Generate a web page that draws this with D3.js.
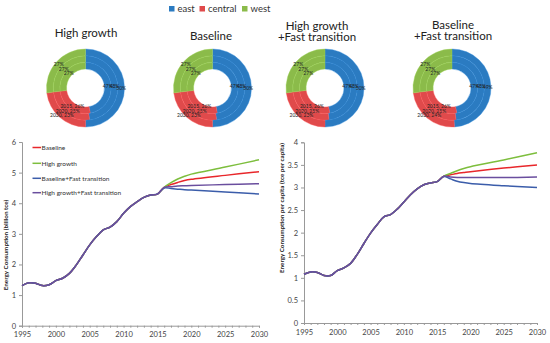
<!DOCTYPE html>
<html><head><meta charset="utf-8">
<script src="https://cdn.jsdelivr.net/npm/d3@7"></script>
<style>body{margin:0;background:#fff}svg{display:block;font-family:Lato,"Open Sans",sans-serif}</style>
</head><body><svg id="c" width="550" height="343"></svg>
<script>
// ---------- data ----------
const regions = ["east", "central", "west"];
const regionColors = ["#2B7BC1", "#E04A4B", "#8BBB4A"];
const ringYears = [2015, 2020, 2030];
const donutTitles = [["High growth"], ["Baseline"], ["High growth", "+Fast transition"], ["Baseline", "+Fast transition"]];
const eastShare = [[47, 48, 50], [47, 48, 50], [47, 48, 50], [47, 48, 49]];
const centralShare = [[26, 25, 23], [26, 25, 23], [26, 25, 23], [26, 25, 24]];
const westShare = [[27, 27, 27], [27, 27, 27], [27, 27, 27], [27, 27, 27]];

const scenarios = ["Baseline", "High growth", "Baseline+Fast transition", "High growth+Fast transition"];
const scenarioColors = ["#E8272B", "#7DBE3D", "#3B5DAA", "#6A4E9E"];

const histYears = [1995,1996,1997,1998,1999,2000,2001,2002,2003,2004,2005,2006,2007,2008,2009,2010,2011,2012,2013,2014,2015];
const projYears = [2016,2017,2018,2019,2020,2025,2030];

const histTotal = [1.31,1.40,1.39,1.31,1.34,1.47,1.55,1.71,1.98,2.31,2.64,2.91,3.13,3.22,3.40,3.67,3.89,4.05,4.19,4.27,4.30];
const totalBaseline   = [4.52,4.61,4.68,4.74,4.78,4.91,5.03];
const totalHigh       = [4.52,4.67,4.79,4.88,4.95,5.18,5.42];
const totalBaseFast   = [4.50,4.48,4.46,4.44,4.43,4.37,4.30];
const totalHighFast   = [4.52,4.54,4.56,4.57,4.58,4.61,4.64];

const histPerCap = [1.08,1.13,1.12,1.05,1.05,1.16,1.22,1.32,1.52,1.76,1.99,2.18,2.35,2.40,2.52,2.68,2.84,2.97,3.06,3.10,3.13];
const capBaseline = [3.25,3.28,3.31,3.33,3.35,3.43,3.50];
const capHigh     = [3.25,3.31,3.37,3.42,3.46,3.61,3.77];
const capBaseFast = [3.24,3.19,3.14,3.11,3.09,3.04,3.00];
const capHighFast = [3.25,3.23,3.22,3.22,3.22,3.22,3.23];

const leftTicks = [0,1,2,3,4,5,6];
const rightTicks = [0,0.5,1,1.5,2,2.5,3,3.5,4];
const xTickYears = [1995,2000,2005,2010,2015,2020,2025,2030];

// ---------- drawing ----------
const svg = d3.select("#c");

// top legend
const legPos = [169, 199.5, 242];
regions.forEach((r, i) => {
  const g = svg.append("g").attr("transform", `translate(${legPos[i]},0)`);
  g.append("rect").attr("x", 0).attr("y", 6).attr("width", 5.5).attr("height", 5.5).attr("fill", regionColors[i]);
  g.append("text").attr("x", 8.5).attr("y", 12.2).attr("font-size", 9.5).attr("fill", "#333").text(r);
});

// donuts
const donutCx = [85.5, 212.5, 325, 452];
const donutCy = 88;
const rIn = 19, rOut = 39;
const ringW = (rOut - rIn) / ringYears.length;
const titleX = [86, 211, 317, 453];
const titleY = [[37], [39.5], [29.5, 40.5], [28.5, 39.5]];
const pie = d3.pie().sort(null).value(d => d.v);

donutTitles.forEach((lines, k) => {
  const g = svg.append("g").attr("transform", `translate(${donutCx[k]},${donutCy})`);
  lines.forEach((t, j) => {
    svg.append("text").attr("x", titleX[k]).attr("y", titleY[k][j]).attr("text-anchor", "middle")
      .attr("font-size", 11.5).attr("fill", "#222").text(t);
  });
  ringYears.forEach((yr, ri) => {
    const vals = [eastShare[k][ri], centralShare[k][ri], westShare[k][ri]];
    const data = pie(vals.map((v, i) => ({v, i})));
    const arc = d3.arc().innerRadius(rIn + ri * ringW).outerRadius(rIn + (ri + 1) * ringW);
    g.selectAll(null).data(data).enter().append("path")
      .attr("d", arc).attr("fill", d => regionColors[d.data.i])
      .attr("stroke", d => d3.color(regionColors[d.data.i]).brighter(0.35)).attr("stroke-width", 0.4);
  });
  ringYears.forEach((yr, ri) => {
    const vals = [eastShare[k][ri], centralShare[k][ri], westShare[k][ri]];
    const data = pie(vals.map((v, i) => ({v, i})));
    const arc = d3.arc().innerRadius(rIn + ri * ringW).outerRadius(rIn + (ri + 1) * ringW);
    g.selectAll(null).data(data).enter().append("text")
      .attr("transform", d => `translate(${arc.centroid(d)})`)
      .attr("text-anchor", "middle").attr("dy", "0.35em")
      .attr("font-size", 5).attr("fill", "#222")
      .text(d => d.data.i === 1 ? `${yr}, ${d.data.v}%` : `${d.data.v}%`);
  });
});

// line charts
function lineChart(opts) {
  const x = d3.scaleLinear().domain([1995, 2030]).range(opts.xr);
  const y = d3.scaleLinear().domain([0, opts.ymax]).range(opts.yr);
  const g = svg.append("g");
  const yAx = d3.axisLeft(y).tickValues(opts.yticks).tickSize(3).tickFormat(d => String(d));
  const ya = g.append("g").attr("transform", `translate(${opts.xr[0]},0)`).call(yAx);
  const xAx = d3.axisBottom(x).tickValues(d3.range(1995, 2031)).tickSize(2)
    .tickFormat(d => xTickYears.includes(d) ? String(d) : "");
  const xa = g.append("g").attr("transform", `translate(0,${opts.yr[0]})`).call(xAx);
  [ya, xa].forEach(a => {
    a.select(".domain").attr("stroke", "#999");
    a.selectAll(".tick line").attr("stroke", "#999");
    a.selectAll("text").attr("font-size", 7.5).attr("fill", "#444").attr("font-family", "Lato, sans-serif");
  });
  xa.selectAll("text").attr("dy", "0.9em");
  g.append("text").attr("transform", `translate(${opts.tx},${opts.ty}) rotate(-90)`)
    .attr("text-anchor", "middle").attr("font-size", 6.3).attr("font-weight", "bold").attr("fill", "#222").text(opts.title);
  const line = d3.line().x(d => x(d[0])).y(d => y(d[1])).curve(d3.curveCatmullRom.alpha(0.5));
  opts.series.forEach((s, i) => {
    const pts = histYears.map((yy, j) => [yy, opts.hist[j]]).concat(projYears.map((yy, j) => [yy, s[j]]));
    g.append("path").datum(pts).attr("d", line).attr("fill", "none")
      .attr("stroke", scenarioColors[i]).attr("stroke-width", 1.5);
  });
}

lineChart({xr: [22, 259], yr: [325.7, 142], ymax: 6, yticks: leftTicks, hist: histTotal,
  series: [totalBaseline, totalHigh, totalBaseFast, totalHighFast],
  title: "Energy Consumption (billion tce)", tx: 8, ty: 245});
lineChart({xr: [304, 537], yr: [323, 142.3], ymax: 4, yticks: rightTicks, hist: histPerCap,
  series: [capBaseline, capHigh, capBaseFast, capHighFast],
  title: "Energy Consumption per capita (tce per capita)", tx: 284, ty: 208});

// left legend
const legY = [147.5, 163.3, 178.3, 192.7];
scenarios.forEach((s, i) => {
  svg.append("line").attr("x1", 32.5).attr("x2", 41).attr("y1", legY[i]).attr("y2", legY[i])
    .attr("stroke", scenarioColors[i]).attr("stroke-width", 1.5);
  svg.append("text").attr("x", 41.5).attr("y", legY[i] + 2.2).attr("font-size", 6.5).attr("fill", "#333").text(s);
});
</script></body></html>
